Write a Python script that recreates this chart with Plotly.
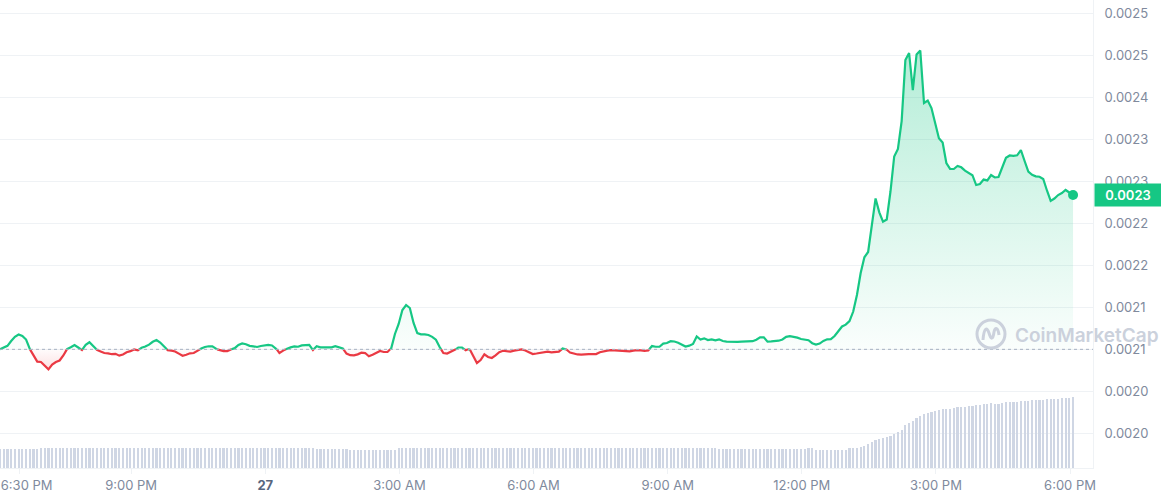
import pandas as pd
import plotly.graph_objects as go

# ---------------- data ----------------
prices = [
    0.0020996, 0.0021014, 0.0021038, 0.0021095, 0.0021146, 0.0021173, 0.0021155, 0.0021113, 0.0021000, 0.0020923,
    0.0020849, 0.0020845, 0.0020801, 0.0020758, 0.0020815, 0.0020845, 0.0020863, 0.0020923, 0.0021000, 0.0021021,
    0.0021048, 0.0021018, 0.0020988, 0.0021050, 0.0021080, 0.0021036, 0.0020990, 0.0020971, 0.0020952, 0.0020948,
    0.0020938, 0.0020943, 0.0020921, 0.0020935, 0.0020961, 0.0020974, 0.0020994, 0.0020985, 0.0021015, 0.0021030,
    0.0021052, 0.0021086, 0.0021107, 0.0021077, 0.0021033, 0.0020986, 0.0020980, 0.0020971, 0.0020945, 0.0020919,
    0.0020932, 0.0020949, 0.0020952, 0.0020976, 0.0021006, 0.0021024, 0.0021033, 0.0021032, 0.0021000, 0.0020986,
    0.0020975, 0.0020975, 0.0020994, 0.0021010, 0.0021048, 0.0021067, 0.0021057, 0.0021038, 0.0021032, 0.0021024,
    0.0021036, 0.0021045, 0.0021048, 0.0021042, 0.0021014, 0.0020952, 0.0020981, 0.0021002, 0.0021019, 0.0021030,
    0.0021027, 0.0021043, 0.0021050, 0.0021048, 0.0020988, 0.0021033, 0.0021020, 0.0021020, 0.0021012, 0.0021019,
    0.0021033, 0.0021021, 0.0021008, 0.0020946, 0.0020926, 0.0020925, 0.0020936, 0.0020956, 0.0020952, 0.0020914,
    0.0020932, 0.0020958, 0.0020976, 0.0020964, 0.0020964, 0.0021008, 0.0021179, 0.0021298, 0.0021464, 0.0021524,
    0.0021488, 0.0021310, 0.0021190, 0.0021175, 0.0021175, 0.0021167, 0.0021145, 0.0021110, 0.0021024, 0.0020952,
    0.0020946, 0.0020968, 0.0020985, 0.0021018, 0.0021018, 0.0020986, 0.0021002, 0.0020917, 0.0020833, 0.0020869,
    0.0020937, 0.0020905, 0.0020893, 0.0020924, 0.0020962, 0.0020979, 0.0020975, 0.0020969, 0.0020980, 0.0020990,
    0.0020995, 0.0020982, 0.0020961, 0.0020940, 0.0020946, 0.0020955, 0.0020962, 0.0020968, 0.0020960, 0.0020962,
    0.0020968, 0.0021006, 0.0020994, 0.0020958, 0.0020945, 0.0020935, 0.0020933, 0.0020940, 0.0020940, 0.0020940,
    0.0020940, 0.0020962, 0.0020974, 0.0020981, 0.0020986, 0.0020983, 0.0020976, 0.0020976, 0.0020970, 0.0020973,
    0.0020981, 0.0020987, 0.0020983, 0.0020976, 0.0020983, 0.0021035, 0.0021027, 0.0021027, 0.0021065, 0.0021071,
    0.0021093, 0.0021089, 0.0021075, 0.0021054, 0.0021030, 0.0021040, 0.0021061, 0.0021149, 0.0021113, 0.0021127,
    0.0021107, 0.0021114, 0.0021102, 0.0021115, 0.0021095, 0.0021087, 0.0021086, 0.0021080, 0.0021085, 0.0021087,
    0.0021087, 0.0021087, 0.0021093, 0.0021111, 0.0021139, 0.0021139, 0.0021087, 0.0021090, 0.0021094, 0.0021099,
    0.0021113, 0.0021145, 0.0021152, 0.0021148, 0.0021135, 0.0021119, 0.0021108, 0.0021105, 0.0021069, 0.0021052,
    0.0021065, 0.0021096, 0.0021115, 0.0021117, 0.0021155, 0.0021218, 0.0021268, 0.0021290, 0.0021333, 0.0021446,
    0.0021643, 0.0021905, 0.0022092, 0.0022155, 0.0022452, 0.0022792, 0.0022627, 0.0022516, 0.0022542, 0.0022875,
    0.0023292, 0.0023381, 0.0023714, 0.0024441, 0.0024524, 0.0024083, 0.0024506, 0.0024554, 0.0023929, 0.0023958,
    0.0023869, 0.0023673, 0.0023508, 0.0023458, 0.0023214, 0.0023145, 0.0023143, 0.0023179, 0.0023163, 0.0023123,
    0.0023093, 0.0023069, 0.0022952, 0.0022964, 0.0023017, 0.0023007, 0.0023071, 0.0023042, 0.0023048, 0.0023167,
    0.0023276, 0.0023304, 0.0023300, 0.0023306, 0.0023369, 0.0023238, 0.0023111, 0.0023074, 0.0023056, 0.0023051,
    0.0023024, 0.0022887, 0.0022764, 0.0022791, 0.0022833, 0.0022857, 0.0022893, 0.0022863, 0.0022833,
]

volumes = [
    19, 19, 19, 19, 19, 19, 19, 19, 19, 19,
    19, 20, 20, 20, 20, 20, 20, 20, 20, 20,
    20, 20, 20, 20, 20, 20, 20, 20, 20, 20,
    20, 20, 20, 20, 20, 20, 20, 20, 20, 20,
    20, 20, 20, 20, 20, 20, 20, 20, 20, 20,
    20, 20, 20, 20, 20, 20, 20, 20, 20, 20,
    20, 20, 20, 20, 20, 20, 20, 20, 20, 20,
    20, 20, 20, 20, 20, 20, 20, 20, 20, 20,
    20, 20, 20, 20, 20, 18.7, 18.7, 18.7, 18.7, 18.7,
    18.7, 18.7, 18.7, 18.7, 17.7, 17.7, 17.7, 17.7, 17.7, 17.7,
    17.7, 17.7, 17.7, 17.7, 17.7, 17.7, 17.7, 20, 20, 20,
    20, 20, 20, 20, 20, 20, 20, 20, 20, 20,
    20, 20, 20, 20, 20, 20, 20, 20, 20, 20,
    20, 20, 20, 20, 20, 20, 20, 20, 20, 20,
    20, 20, 20, 20, 20, 20, 20, 20, 20, 20,
    20, 20, 20, 20, 20, 20, 20, 20, 20, 20,
    20, 20, 20, 20, 20, 20, 20, 20, 20, 20,
    20, 20, 20, 20, 20, 20, 20, 20, 20, 20,
    20, 20, 20, 20, 20, 20, 20, 20, 20, 20,
    20, 20, 20, 18.7, 18.7, 18.7, 18.7, 18.7, 18.7, 18.7,
    18.7, 18.7, 18.7, 18.7, 18.7, 18.7, 18.7, 18.7, 18.7, 18.7,
    18.7, 18.7, 18.7, 18.7, 18.7, 18.7, 18.7, 19.7, 19.7, 18.3,
    18.3, 18.3, 18.3, 18.3, 18.3, 18.3, 18.3, 18.3, 19.7, 19.7,
    19.7, 20.7, 22, 24, 26, 27.7, 28.7, 29.7, 30.7, 31.7,
    34, 36, 38, 42.7, 44.7, 47.3, 49.7, 51.7, 54, 55.3,
    56, 56.7, 57.7, 58.7, 59.3, 59.3, 60.3, 60.7, 60.7, 61.3,
    62.3, 62.3, 63.3, 63.3, 63.7, 64.3, 64.7, 64.3, 64.3, 65.3,
    65.7, 66.3, 66.3, 66.3, 67.3, 67.3, 67.3, 68.3, 68.3, 68.3,
    68.3, 68.7, 69.3, 69.3, 69.3, 70.3, 70.3, 70.3, 71.0,
]

start_time = "2024-03-26 18:04"
x_tick_times = ["2024-03-26 18:30", "2024-03-26 21:00", "2024-03-27 00:00", "2024-03-27 03:00",
                "2024-03-27 06:00", "2024-03-27 09:00", "2024-03-27 12:00", "2024-03-27 15:00",
                "2024-03-27 18:00"]
x_tick_labels = ["\u00a0\u00a0\u00a0\u00a06:30 PM", "9:00 PM",
                 "<span style='color:#58667e'><b>27</b></span>", "3:00 AM",
                 "6:00 AM", "9:00 AM", "12:00 PM", "3:00 PM", "6:00 PM"]
y_tick_values = [0.00250, 0.00245, 0.00240, 0.00235, 0.00230, 0.00225,
                 0.00220, 0.00215, 0.00210, 0.00205, 0.00200]
y_tick_labels = ["0.0025", "0.0025", "0.0024", "0.0023", "0.0023", "0.0022",
                 "0.0022", "0.0021", "0.0021", "0.0020", "0.0020"]

assert len(prices) == len(volumes) == 289

# ---------------- styling ----------------
GREEN = "#16c784"
RED = "#ea3943"
GRID = "#eff2f5"
LABEL = "#808a9d"
FONT = "Inter, Roboto, sans-serif"

times = pd.date_range(start_time, periods=len(prices), freq="5min")
base = prices[0]

# split the line where it crosses the opening price
xs, ys = [], []
for i in range(len(prices)):
    if i > 0:
        p0, p1 = prices[i - 1], prices[i]
        if (p0 - base) * (p1 - base) < 0:
            f = (base - p0) / (p1 - p0)
            xs.append(times[i - 1] + (times[i] - times[i - 1]) * f)
            ys.append(base)
    xs.append(times[i])
    ys.append(prices[i])

green_line = [y if y >= base else None for y in ys]
red_line = [y if y <= base else None for y in ys]
green_fill = [max(y, base) for y in ys]
red_fill = [min(y, base) for y in ys]
base_line = [base for _ in ys]

fig = go.Figure()

# volume bars (secondary axis, bottom area)
fig.add_trace(go.Bar(x=times, y=volumes, yaxis="y2", marker=dict(color="#cfd6e4", line=dict(width=0)),
                     width=[5 * 60 * 1000 * 0.58] * len(volumes), hoverinfo="skip"))

# green area
fig.add_trace(go.Scatter(x=xs, y=base_line, mode="lines", line=dict(width=0), hoverinfo="skip"))
fig.add_trace(go.Scatter(x=xs, y=green_fill, mode="lines", line=dict(width=0), fill="tonexty",
                         fillgradient=dict(type="vertical",
                                           colorscale=[[0, "rgba(22,199,132,0.02)"], [1, "rgba(22,199,132,0.32)"]],
                                           start=base, stop=max(prices)),
                         hoverinfo="skip"))
# red area
fig.add_trace(go.Scatter(x=xs, y=base_line, mode="lines", line=dict(width=0), hoverinfo="skip"))
fig.add_trace(go.Scatter(x=xs, y=red_fill, mode="lines", line=dict(width=0), fill="tonexty",
                         fillgradient=dict(type="vertical",
                                           colorscale=[[0, "rgba(234,57,67,0.16)"], [1, "rgba(234,57,67,0.02)"]],
                                           start=min(prices), stop=base),
                         hoverinfo="skip"))

# lines
fig.add_trace(go.Scatter(x=xs, y=red_line, mode="lines", line=dict(color=RED, width=2.2), connectgaps=False))
fig.add_trace(go.Scatter(x=xs, y=green_line, mode="lines", line=dict(color=GREEN, width=2.2), connectgaps=False))

# last point marker
fig.add_trace(go.Scatter(x=[times[-1]], y=[prices[-1]], mode="markers",
                         marker=dict(color=GREEN, size=10)))

# opening price dotted line
fig.add_shape(type="line", xref="paper", x0=0, x1=1, yref="y", y0=base, y1=base,
              line=dict(color="#a7b1c2", width=1, dash="dot"), layer="above")

# watermark
WM = "#cbd1dc"
fig.add_shape(type="circle", xref="paper", yref="paper", xsizemode="pixel", ysizemode="pixel",
              xanchor=991 / 1093, yanchor=1 - 334 / 468, x0=-14, x1=14, y0=-14, y1=14,
              line=dict(color=WM, width=3))
fig.add_shape(type="path", xref="paper", yref="paper", xsizemode="pixel", ysizemode="pixel",
              xanchor=991 / 1093, yanchor=1 - 334 / 468,
              path="M -8,-6 C -7,7 -4,7 -2,1 C 0,-6 2,-6 3,2 C 4,7 7,7 8,-1",
              line=dict(color=WM, width=3))
fig.add_annotation(x=1013 / 1093, y=1 - 335 / 468, xref="paper", yref="paper", xanchor="left",
                   yanchor="middle", text="CoinMarketCap", showarrow=False,
                   font=dict(family=FONT, size=19, color=WM, weight=600))

# current price badge
fig.add_annotation(x=1, xref="paper", y=prices[-1], yref="y", xanchor="left", yanchor="middle",
                   text=f"{prices[-1]:.4f}", showarrow=False, bgcolor=GREEN, width=60, height=16,
                   borderpad=3, xshift=1, align="center",
                   font=dict(family=FONT, size=13, color="white", weight=600))

xr0 = times[0]
xr1 = times[0] + pd.Timedelta(hours=1093 / 44.71)

fig.update_layout(
    width=1161, height=500,
    margin=dict(l=0, r=68, t=0, b=32, autoexpand=False),
    paper_bgcolor="white", plot_bgcolor="white",
    showlegend=False, hovermode=False,
    font=dict(family=FONT, size=13, color=LABEL),
    bargap=0,
    xaxis=dict(type="date", range=[xr0, xr1], tickmode="array", tickvals=x_tick_times,
               ticktext=x_tick_labels, showgrid=False, zeroline=False, automargin=False,
               showline=True, linecolor=GRID, linewidth=1,
               ticks="outside", ticklen=5, tickcolor=GRID, ticklabeloverflow="allow",
               tickfont=dict(family=FONT, size=13, color=LABEL)),
    yaxis=dict(range=[0.00195833, 0.00251548], side="right", tickmode="array",
               tickvals=y_tick_values, ticktext=y_tick_labels, showgrid=True, automargin=False,
               gridcolor=GRID, gridwidth=1, zeroline=False, showline=True,
               linecolor=GRID, linewidth=1, ticks="", ticklabelstandoff=8,
               ticklabeloverflow="allow",
               tickfont=dict(family=FONT, size=13, color=LABEL)),
    yaxis2=dict(range=[0, 468], overlaying="y", visible=False, showgrid=False),
)

fig.write_html("out.html", config={"displayModeBar": False},
               post_script="document.body.style.margin='0';document.body.style.padding='0';")
